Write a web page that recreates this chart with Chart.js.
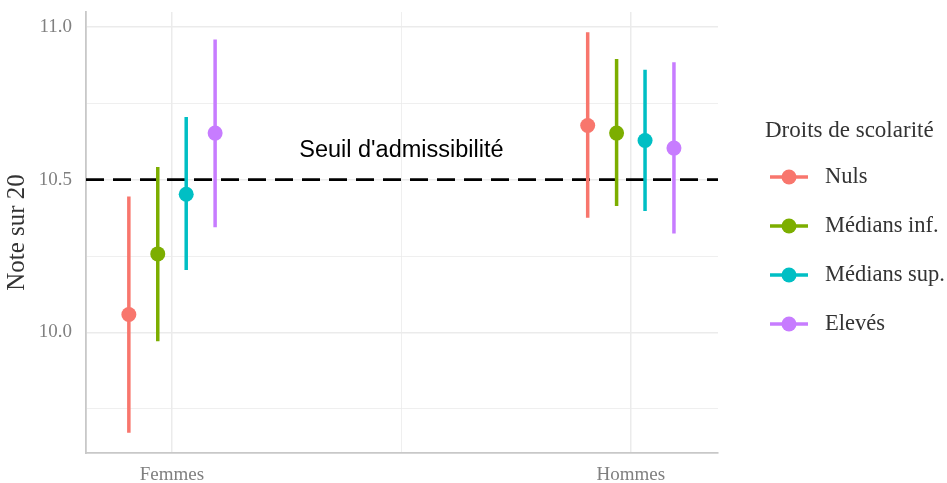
<!DOCTYPE html>
<html>
<head>
<meta charset="utf-8">
<script src="https://cdn.jsdelivr.net/npm/chart.js@4"></script>
<style>
html,body{margin:0;padding:0;background:#fff;}
#wrap{width:947px;height:483px;position:relative;}
</style>
</head>
<body>
<div id="wrap"><canvas id="c" width="947" height="483"></canvas></div>
<script>
// ---- data ----
const categories = ["Femmes", "Hommes"];
const seriesNames = ["Nuls", "Médians inf.", "Médians sup.", "Elevés"];
const seriesColors = ["#F8766D", "#7CAE00", "#00BFC4", "#C77CFF"];
const nulsMean = [10.059, 10.677];
const nulsLow = [9.672, 10.375];
const nulsHigh = [10.445, 10.982];
const medInfMean = [10.257, 10.652];
const medInfLow = [9.971, 10.414];
const medInfHigh = [10.541, 10.894];
const medSupMean = [10.452, 10.628];
const medSupLow = [10.204, 10.397];
const medSupHigh = [10.705, 10.859];
const elevesMean = [10.652, 10.603];
const elevesLow = [10.344, 10.324];
const elevesHigh = [10.958, 10.884];
const yTicks = [9.75, 10.0, 10.25, 10.5, 10.75, 11.0];
const yMajorTicks = [10.0, 10.5, 11.0];
const threshold = 10.5;
const thresholdLabel = "Seuil d'admissibilité";
const legendTitle = "Droits de scolarité";

const means = [nulsMean, medInfMean, medSupMean, elevesMean];
const lows = [nulsLow, medInfLow, medSupLow, elevesLow];
const highs = [nulsHigh, medInfHigh, medSupHigh, elevesHigh];
const dodge = [-0.094, -0.031, 0.031, 0.094];

const datasets = [];
seriesNames.forEach((name, s) => {
  const rangeData = [];
  categories.forEach((c, i) => {
    const x = i + 1 + dodge[s];
    rangeData.push({x: x, y: lows[s][i]});
    rangeData.push({x: x, y: highs[s][i]});
    rangeData.push({x: x, y: null});
  });
  datasets.push({
    type: 'line', label: name + ' range', data: rangeData,
    borderColor: seriesColors[s], borderWidth: 3.5, pointRadius: 0,
    spanGaps: false, fill: false, order: 2, borderCapStyle: 'butt'
  });
});
seriesNames.forEach((name, s) => {
  datasets.push({
    type: 'scatter', label: name,
    data: categories.map((c, i) => ({x: i + 1 + dodge[s], y: means[s][i]})),
    backgroundColor: seriesColors[s], borderColor: seriesColors[s],
    pointRadius: 7.5, pointHoverRadius: 7.5, borderWidth: 0, order: 1
  });
});
// threshold line
datasets.push({
  type: 'line', label: 'seuil',
  data: [{x: 0.8126, y: threshold}, {x: 2.19, y: threshold}],
  borderColor: '#000', borderWidth: 2.6, borderDash: [18, 9], pointRadius: 0,
  order: 3, fill: false
});

const annotate = {
  id: 'annotate',
  afterDatasetsDraw(chart) {
    const ctx = chart.ctx;
    const xs = chart.scales.x, ys = chart.scales.y;
    ctx.save();
    ctx.fillStyle = '#000';
    ctx.font = '23.5px "Liberation Sans", Arial, sans-serif';
    ctx.textAlign = 'center';
    ctx.textBaseline = 'middle';
    ctx.fillText(thresholdLabel, xs.getPixelForValue(1.5), ys.getPixelForValue(10.596));
    // legend
    ctx.textAlign = 'left';
    ctx.fillStyle = '#333';
    ctx.font = '23px "Liberation Serif", "Times New Roman", serif';
    ctx.fillText(legendTitle, 765, 131);
    ctx.font = '22.5px "Liberation Serif", "Times New Roman", serif';
    seriesNames.forEach((name, s) => {
      const y = 177 + s * 49;
      ctx.strokeStyle = seriesColors[s];
      ctx.lineWidth = 3.5;
      ctx.beginPath(); ctx.moveTo(770, y); ctx.lineTo(808, y); ctx.stroke();
      ctx.fillStyle = seriesColors[s];
      ctx.beginPath(); ctx.arc(789, y, 7.5, 0, Math.PI * 2); ctx.fill();
      ctx.fillStyle = '#333';
      ctx.fillText(name, 825, y);
    });
    ctx.restore();
  }
};

new Chart(document.getElementById('c'), {
  data: {datasets: datasets},
  options: {
    responsive: false, animation: false, maintainAspectRatio: false,
    layout: {padding: {left: 0, right: 229, top: 12, bottom: 0}},
    plugins: {legend: {display: false}, tooltip: {enabled: false}},
    scales: {
      x: {
        type: 'linear', min: 0.8126, max: 2.19,
        afterBuildTicks(scale) { scale.ticks = [{value: 1}, {value: 1.5}, {value: 2}]; },
        afterFit(scale) { scale.height = 30; scale.paddingLeft = 0; scale.paddingRight = 0; },
        ticks: {
          autoSkip: false, maxRotation: 0, padding: 11, color: '#808080',
          font: {family: '"Liberation Serif", "Times New Roman", serif', size: 19},
          callback: (v) => v === 1 ? categories[0] : (v === 2 ? categories[1] : '')
        },
        grid: {
          drawTicks: false,
          color: '#ebebeb',
          lineWidth: (ctx) => (ctx.tick && ctx.tick.value === 1.5) ? 0.8 : 1.5
        },
        border: {display: true, color: '#c8c8c8', width: 1.8}
      },
      y: {
        type: 'linear', min: 9.606, max: 11.048,
        afterBuildTicks(scale) { scale.ticks = yTicks.map(v => ({value: v})); },
        afterFit(scale) { scale.width = 86; scale.paddingTop = 0; scale.paddingBottom = 0; },
        ticks: {
          padding: 14, color: '#808080',
          font: {family: '"Liberation Serif", "Times New Roman", serif', size: 19},
          callback: (v) => yMajorTicks.some(m => Math.abs(m - v) < 1e-9) ? v.toFixed(1) : ''
        },
        grid: {
          drawTicks: false,
          color: '#ebebeb',
          lineWidth: (ctx) => (ctx.tick && yMajorTicks.some(m => Math.abs(m - ctx.tick.value) < 1e-9)) ? 1.5 : 0.8
        },
        border: {display: true, color: '#c8c8c8', width: 1.8},
        title: {
          display: true, text: 'Note sur 20', color: '#333',
          font: {family: '"Liberation Serif", "Times New Roman", serif', size: 25},
          padding: {top: 2, bottom: 0}
        }
      }
    }
  },
  plugins: [annotate]
});
</script>
</body>
</html>
